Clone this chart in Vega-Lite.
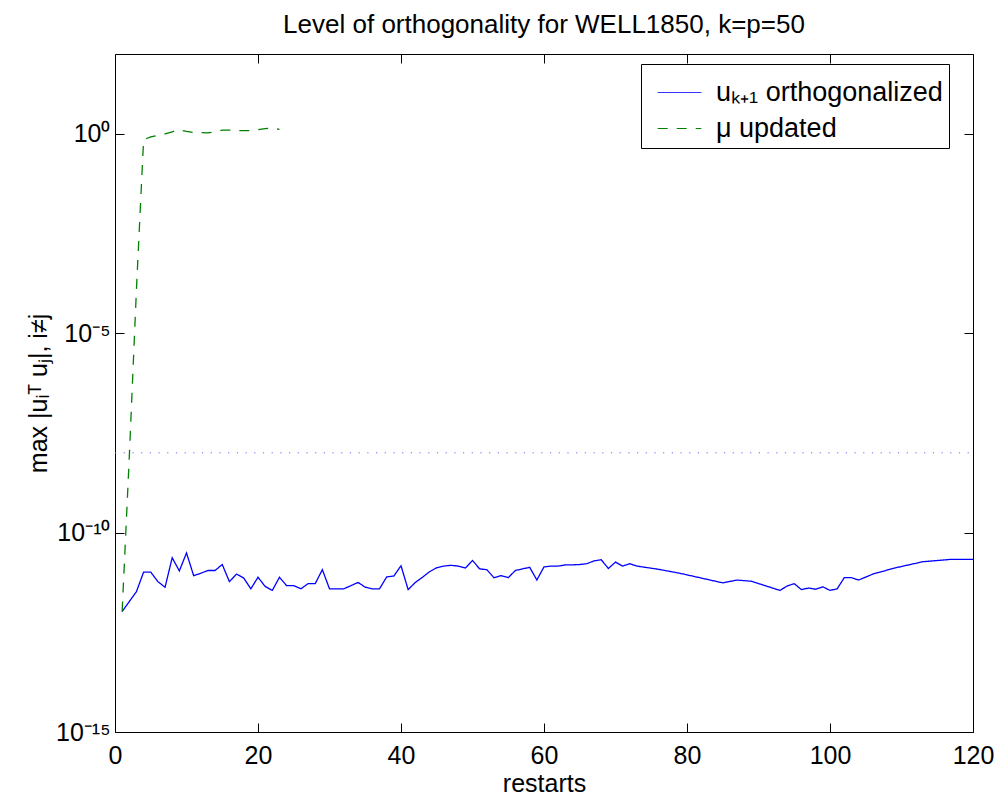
{
  "$schema": "https://vega.github.io/schema/vega-lite/v6.json",
  "width": 858,
  "height": 678,
  "autosize": {"type": "none"},
  "padding": {"left": 115, "top": 54, "right": 25, "bottom": 63},
  "background": "white",
  "config": {
    "font": "Liberation Sans",
    "view": {"stroke": "black", "strokeWidth": 1},
    "axis": {"grid": false, "domain": false, "tickColor": "black", "tickWidth": 1, "labelColor": "black", "titleColor": "black", "labelFontSize": 25, "titleFontSize": 25, "titleFontWeight": "normal", "labelOverlap": false, "labelFlush": false}
  },
  "title": {"text": "Level of orthogonality for WELL1850, k=p=50", "fontSize": 26, "fontWeight": "normal", "color": "black", "anchor": "middle", "baseline": "alphabetic", "offset": 20, "dy": 25},
  "datasets": {
    "lines": [
      {"x": 1, "y": 1.047e-12, "s": "uₖ₊₁ orthogonalized"},
      {"x": 2, "y": 1.862e-12, "s": "uₖ₊₁ orthogonalized"},
      {"x": 3, "y": 3.311e-12, "s": "uₖ₊₁ orthogonalized"},
      {"x": 4, "y": 1.023e-11, "s": "uₖ₊₁ orthogonalized"},
      {"x": 5, "y": 1.023e-11, "s": "uₖ₊₁ orthogonalized"},
      {"x": 6, "y": 5.888e-12, "s": "uₖ₊₁ orthogonalized"},
      {"x": 7, "y": 4.266e-12, "s": "uₖ₊₁ orthogonalized"},
      {"x": 8, "y": 2.344e-11, "s": "uₖ₊₁ orthogonalized"},
      {"x": 9, "y": 1.096e-11, "s": "uₖ₊₁ orthogonalized"},
      {"x": 10, "y": 3.090e-11, "s": "uₖ₊₁ orthogonalized"},
      {"x": 11, "y": 8.318e-12, "s": "uₖ₊₁ orthogonalized"},
      {"x": 12, "y": 9.550e-12, "s": "uₖ₊₁ orthogonalized"},
      {"x": 13, "y": 1.122e-11, "s": "uₖ₊₁ orthogonalized"},
      {"x": 14, "y": 1.122e-11, "s": "uₖ₊₁ orthogonalized"},
      {"x": 15, "y": 1.585e-11, "s": "uₖ₊₁ orthogonalized"},
      {"x": 16, "y": 5.888e-12, "s": "uₖ₊₁ orthogonalized"},
      {"x": 17, "y": 9.120e-12, "s": "uₖ₊₁ orthogonalized"},
      {"x": 18, "y": 7.244e-12, "s": "uₖ₊₁ orthogonalized"},
      {"x": 19, "y": 3.890e-12, "s": "uₖ₊₁ orthogonalized"},
      {"x": 20, "y": 7.586e-12, "s": "uₖ₊₁ orthogonalized"},
      {"x": 21, "y": 4.467e-12, "s": "uₖ₊₁ orthogonalized"},
      {"x": 22, "y": 3.548e-12, "s": "uₖ₊₁ orthogonalized"},
      {"x": 23, "y": 7.586e-12, "s": "uₖ₊₁ orthogonalized"},
      {"x": 24, "y": 4.677e-12, "s": "uₖ₊₁ orthogonalized"},
      {"x": 25, "y": 4.677e-12, "s": "uₖ₊₁ orthogonalized"},
      {"x": 26, "y": 3.890e-12, "s": "uₖ₊₁ orthogonalized"},
      {"x": 27, "y": 5.248e-12, "s": "uₖ₊₁ orthogonalized"},
      {"x": 28, "y": 5.248e-12, "s": "uₖ₊₁ orthogonalized"},
      {"x": 29, "y": 1.175e-11, "s": "uₖ₊₁ orthogonalized"},
      {"x": 30, "y": 3.890e-12, "s": "uₖ₊₁ orthogonalized"},
      {"x": 31, "y": 3.890e-12, "s": "uₖ₊₁ orthogonalized"},
      {"x": 32, "y": 3.890e-12, "s": "uₖ₊₁ orthogonalized"},
      {"x": 33, "y": 4.677e-12, "s": "uₖ₊₁ orthogonalized"},
      {"x": 34, "y": 5.623e-12, "s": "uₖ₊₁ orthogonalized"},
      {"x": 35, "y": 4.266e-12, "s": "uₖ₊₁ orthogonalized"},
      {"x": 36, "y": 3.890e-12, "s": "uₖ₊₁ orthogonalized"},
      {"x": 37, "y": 3.890e-12, "s": "uₖ₊₁ orthogonalized"},
      {"x": 38, "y": 7.762e-12, "s": "uₖ₊₁ orthogonalized"},
      {"x": 39, "y": 8.128e-12, "s": "uₖ₊₁ orthogonalized"},
      {"x": 40, "y": 1.479e-11, "s": "uₖ₊₁ orthogonalized"},
      {"x": 41, "y": 3.715e-12, "s": "uₖ₊₁ orthogonalized"},
      {"x": 42, "y": 5.623e-12, "s": "uₖ₊₁ orthogonalized"},
      {"x": 43, "y": 7.586e-12, "s": "uₖ₊₁ orthogonalized"},
      {"x": 44, "y": 1.047e-11, "s": "uₖ₊₁ orthogonalized"},
      {"x": 45, "y": 1.318e-11, "s": "uₖ₊₁ orthogonalized"},
      {"x": 46, "y": 1.445e-11, "s": "uₖ₊₁ orthogonalized"},
      {"x": 47, "y": 1.514e-11, "s": "uₖ₊₁ orthogonalized"},
      {"x": 48, "y": 1.445e-11, "s": "uₖ₊₁ orthogonalized"},
      {"x": 49, "y": 1.288e-11, "s": "uₖ₊₁ orthogonalized"},
      {"x": 50, "y": 1.995e-11, "s": "uₖ₊₁ orthogonalized"},
      {"x": 51, "y": 1.230e-11, "s": "uₖ₊₁ orthogonalized"},
      {"x": 52, "y": 1.175e-11, "s": "uₖ₊₁ orthogonalized"},
      {"x": 53, "y": 7.413e-12, "s": "uₖ₊₁ orthogonalized"},
      {"x": 54, "y": 8.318e-12, "s": "uₖ₊₁ orthogonalized"},
      {"x": 55, "y": 7.413e-12, "s": "uₖ₊₁ orthogonalized"},
      {"x": 56, "y": 1.122e-11, "s": "uₖ₊₁ orthogonalized"},
      {"x": 57, "y": 1.230e-11, "s": "uₖ₊₁ orthogonalized"},
      {"x": 58, "y": 1.349e-11, "s": "uₖ₊₁ orthogonalized"},
      {"x": 59, "y": 6.457e-12, "s": "uₖ₊₁ orthogonalized"},
      {"x": 60, "y": 1.380e-11, "s": "uₖ₊₁ orthogonalized"},
      {"x": 61, "y": 1.445e-11, "s": "uₖ₊₁ orthogonalized"},
      {"x": 62, "y": 1.445e-11, "s": "uₖ₊₁ orthogonalized"},
      {"x": 63, "y": 1.549e-11, "s": "uₖ₊₁ orthogonalized"},
      {"x": 64, "y": 1.549e-11, "s": "uₖ₊₁ orthogonalized"},
      {"x": 65, "y": 1.585e-11, "s": "uₖ₊₁ orthogonalized"},
      {"x": 66, "y": 1.660e-11, "s": "uₖ₊₁ orthogonalized"},
      {"x": 67, "y": 1.950e-11, "s": "uₖ₊₁ orthogonalized"},
      {"x": 68, "y": 2.089e-11, "s": "uₖ₊₁ orthogonalized"},
      {"x": 69, "y": 1.259e-11, "s": "uₖ₊₁ orthogonalized"},
      {"x": 70, "y": 1.820e-11, "s": "uₖ₊₁ orthogonalized"},
      {"x": 71, "y": 1.445e-11, "s": "uₖ₊₁ orthogonalized"},
      {"x": 72, "y": 1.660e-11, "s": "uₖ₊₁ orthogonalized"},
      {"x": 73, "y": 1.445e-11, "s": "uₖ₊₁ orthogonalized"},
      {"x": 76, "y": 1.202e-11, "s": "uₖ₊₁ orthogonalized"},
      {"x": 79, "y": 9.550e-12, "s": "uₖ₊₁ orthogonalized"},
      {"x": 85, "y": 5.495e-12, "s": "uₖ₊₁ orthogonalized"},
      {"x": 87, "y": 6.457e-12, "s": "uₖ₊₁ orthogonalized"},
      {"x": 89, "y": 6.026e-12, "s": "uₖ₊₁ orthogonalized"},
      {"x": 93, "y": 3.548e-12, "s": "uₖ₊₁ orthogonalized"},
      {"x": 94, "y": 4.571e-12, "s": "uₖ₊₁ orthogonalized"},
      {"x": 95, "y": 5.248e-12, "s": "uₖ₊₁ orthogonalized"},
      {"x": 96, "y": 3.715e-12, "s": "uₖ₊₁ orthogonalized"},
      {"x": 97, "y": 4.074e-12, "s": "uₖ₊₁ orthogonalized"},
      {"x": 98, "y": 3.802e-12, "s": "uₖ₊₁ orthogonalized"},
      {"x": 99, "y": 4.365e-12, "s": "uₖ₊₁ orthogonalized"},
      {"x": 100, "y": 3.548e-12, "s": "uₖ₊₁ orthogonalized"},
      {"x": 101, "y": 3.890e-12, "s": "uₖ₊₁ orthogonalized"},
      {"x": 102, "y": 7.413e-12, "s": "uₖ₊₁ orthogonalized"},
      {"x": 103, "y": 7.413e-12, "s": "uₖ₊₁ orthogonalized"},
      {"x": 104, "y": 6.457e-12, "s": "uₖ₊₁ orthogonalized"},
      {"x": 106, "y": 9.120e-12, "s": "uₖ₊₁ orthogonalized"},
      {"x": 109, "y": 1.288e-11, "s": "uₖ₊₁ orthogonalized"},
      {"x": 111, "y": 1.549e-11, "s": "uₖ₊₁ orthogonalized"},
      {"x": 113, "y": 1.862e-11, "s": "uₖ₊₁ orthogonalized"},
      {"x": 117, "y": 2.138e-11, "s": "uₖ₊₁ orthogonalized"},
      {"x": 120, "y": 2.138e-11, "s": "uₖ₊₁ orthogonalized"},
      {"x": 1, "y": 1.047e-12, "s": "μ updated"},
      {"x": 2, "y": 7.943e-9, "s": "μ updated"},
      {"x": 3, "y": 1.259e-4, "s": "μ updated"},
      {"x": 4, "y": 0.708, "s": "μ updated"},
      {"x": 5, "y": 0.832, "s": "μ updated"},
      {"x": 6, "y": 0.912, "s": "μ updated"},
      {"x": 7, "y": 1.0, "s": "μ updated"},
      {"x": 8, "y": 1.122, "s": "μ updated"},
      {"x": 9, "y": 1.259, "s": "μ updated"},
      {"x": 10, "y": 1.148, "s": "μ updated"},
      {"x": 11, "y": 1.072, "s": "μ updated"},
      {"x": 12, "y": 1.072, "s": "μ updated"},
      {"x": 13, "y": 1.047, "s": "μ updated"},
      {"x": 14, "y": 1.122, "s": "μ updated"},
      {"x": 15, "y": 1.230, "s": "μ updated"},
      {"x": 16, "y": 1.230, "s": "μ updated"},
      {"x": 17, "y": 1.202, "s": "μ updated"},
      {"x": 18, "y": 1.202, "s": "μ updated"},
      {"x": 19, "y": 1.202, "s": "μ updated"},
      {"x": 20, "y": 1.259, "s": "μ updated"},
      {"x": 21, "y": 1.349, "s": "μ updated"},
      {"x": 22, "y": 1.380, "s": "μ updated"},
      {"x": 23, "y": 1.288, "s": "μ updated"}
    ],
    "ref": [{"x0": 0, "x1": 120, "y": 1e-8}]
  },
  "layer": [
    {
      "data": {"name": "lines"},
      "mark": {"type": "line", "strokeWidth": 1.3},
      "encoding": {
        "x": {"field": "x", "type": "quantitative", "scale": {"domain": [0, 120], "nice": false, "zero": false},
              "axis": {"orient": "bottom", "values": [0, 20, 40, 60, 80, 100, 120], "tickSize": -9, "labelPadding": 20, "title": "restarts", "titlePadding": 3}},
        "y": {"field": "y", "type": "quantitative", "scale": {"type": "log", "domain": [1e-15, 100], "nice": false},
              "axis": {"orient": "left", "values": [1e-15, 1e-10, 1e-5, 1], "tickSize": -9, "labelPadding": 14, "title": "max |uᵢᵀ uⱼ|, i≠j", "titlePadding": 4,
                       "labelExpr": "round(log(datum.value)/LN10) == 0 ? '10⁰' : round(log(datum.value)/LN10) == -5 ? '10⁻⁵' : round(log(datum.value)/LN10) == -10 ? '10⁻¹⁰' : '10⁻¹⁵'"}},
        "color": {"field": "s", "type": "nominal", "scale": {"domain": ["uₖ₊₁ orthogonalized", "μ updated"], "range": ["#0000ff", "#008000"]},
                  "legend": {"orient": "none", "legendX": 526, "legendY": 10, "title": null, "strokeColor": "black", "fillColor": "white", "padding": 6, "labelFontSize": 27, "labelColor": "black", "labelLimit": 400, "symbolType": "stroke", "symbolSize": 1900, "symbolStrokeWidth": 1, "symbolOffset": 10, "labelOffset": 14, "rowPadding": 0, "cornerRadius": 0}},
        "strokeDash": {"field": "s", "type": "nominal", "scale": {"domain": ["uₖ₊₁ orthogonalized", "μ updated"], "range": [[1, 0], [10, 9]]},
                  "legend": {"orient": "none", "legendX": 526, "legendY": 10, "title": null, "strokeColor": "black", "fillColor": "white", "padding": 6, "labelFontSize": 27, "labelColor": "black", "labelLimit": 400, "symbolType": "stroke", "symbolSize": 1900, "symbolStrokeWidth": 1, "symbolOffset": 10, "labelOffset": 14, "rowPadding": 0, "cornerRadius": 0}}
      }
    },
    {
      "data": {"name": "ref"},
      "mark": {"type": "rule", "color": "#6a6aff", "strokeWidth": 1, "strokeDash": [1.2, 7.5]},
      "encoding": {
        "x": {"field": "x0", "type": "quantitative", "axis": {"orient": "top", "values": [0, 20, 40, 60, 80, 100, 120], "tickSize": -9, "labels": false, "title": null}},
        "x2": {"field": "x1"},
        "y": {"field": "y", "type": "quantitative", "axis": {"orient": "right", "values": [1e-15, 1e-10, 1e-5, 1], "tickSize": -9, "labels": false, "title": null}}
      }
    }
  ],
  "resolve": {"axis": {"x": "independent", "y": "independent"}}
}
